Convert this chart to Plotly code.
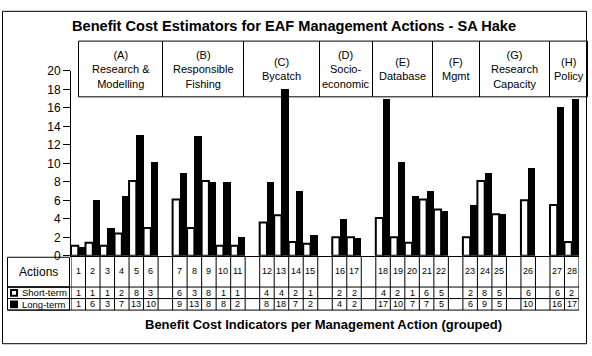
import plotly.graph_objects as go

# ---------------- data ----------------
actions = [str(i) for i in range(1, 29)]
group_sizes = [6, 5, 4, 2, 5, 3, 1, 2]
group_codes = ["(A)", "(B)", "(C)", "(D)", "(E)", "(F)", "(G)", "(H)"]
group_names = ["Research &<br>Modelling", "Responsible<br>Fishing", "Bycatch",
               "Socio-<br>economic", "Database", "Mgmt", "Research<br>Capacity", "Policy"]
short_term = [1.1, 1.4, 1.1, 2.4, 8.1, 3.0,
              6.1, 3.0, 8.1, 1.1, 1.1,
              3.6, 4.4, 1.5, 1.3,
              2.0, 2.0,
              4.1, 2.0, 1.4, 6.1, 5.0,
              2.0, 8.1, 4.5,
              6.0,
              5.5, 1.5]
long_term = [1.0, 6.0, 3.0, 6.5, 13.1, 10.1,
             9.0, 13.0, 8.0, 8.0, 2.0,
             8.0, 18.0, 7.0, 2.3,
             4.0, 1.9,
             17.0, 10.1, 6.5, 7.0, 4.9,
             5.5, 9.0, 4.5,
             9.5,
             16.1, 17.0]
y_ticks = [0, 2, 4, 6, 8, 10, 12, 14, 16, 18, 20]
title = "Benefit Cost Estimators for EAF Management Actions - SA Hake"
x_title = "Benefit Cost Indicators per Management Action (grouped)"
row_labels = ["Actions", "Short-term", "Long-term"]

# ---------------- helpers ----------------
W, H = 592, 356
FONT = "Arial, Liberation Sans, sans-serif"


def px(p):
    return p / W


def py(p):
    return 1 - p / H


# category positions: one empty slot after each group except the last
pos = []
k = 0
for gi, n in enumerate(group_sizes):
    for _ in range(n):
        pos.append(k)
        k += 1
    if gi < len(group_sizes) - 1:
        k += 1
n_slots = k


def r(v):
    return int(v + 0.5)


fig = go.Figure()
fig.add_trace(go.Bar(x=pos, y=short_term, name="Short-term",
                     marker=dict(color="white", line=dict(color="black", width=2))))
fig.add_trace(go.Bar(x=pos, y=long_term, name="Long-term",
                     marker=dict(color="black", line=dict(color="black", width=0))))

shapes = []
annotations = []

# outer border
shapes.append(dict(type="rect", xref="paper", yref="paper", x0=px(2.5), x1=px(586.5),
                   y0=py(350.5), y1=py(4.5), line=dict(color="black", width=1)))

# header boxes
hx = [78.5, 162.5, 243.5, 319.5, 372.5, 432.5, 479.5, 549.5, 587.5]
for i in range(len(group_codes)):
    shapes.append(dict(type="rect", xref="paper", yref="paper", layer="below",
                       x0=px(hx[i]), x1=px(hx[i + 1]), y0=py(93.5), y1=py(35.5),
                       line=dict(color="black", width=1)))
    annotations.append(dict(xref="paper", yref="paper", x=px((hx[i] + hx[i + 1]) / 2),
                            y=py(65), text=group_codes[i] + "<br>" + group_names[i],
                            showarrow=False, align="center", xanchor="center", yanchor="middle",
                            font=dict(family=FONT, size=11, color="black")))

# data table
t_top, r1, r2, t_bot = 259, 291.5, 303.5, 315.5
tab_right = 579
for b in range(n_slots + 1):
    shapes.append(dict(type="line", xref="x", yref="paper", x0=b - 0.5, x1=b - 0.5,
                       y0=py(t_top), y1=py(t_bot), line=dict(color="black", width=1)))
for yy in (r1, r2, t_bot):
    shapes.append(dict(type="line", xref="paper", yref="paper", x0=px(7.5), x1=px(tab_right),
                       y0=py(yy), y1=py(yy), line=dict(color="black", width=1)))
# row header boxes
shapes.append(dict(type="rect", xref="paper", yref="paper", x0=px(7.5), x1=px(69.5),
                   y0=py(r1), y1=py(260.5), line=dict(color="black", width=1)))
shapes.append(dict(type="rect", xref="paper", yref="paper", x0=px(7.5), x1=px(69.5),
                   y0=py(t_bot), y1=py(r1), line=dict(color="black", width=1)))
# legend keys
shapes.append(dict(type="rect", xref="paper", yref="paper", x0=px(11), x1=px(17),
                   y0=py(300.5), y1=py(294.5), fillcolor="white", line=dict(color="black", width=2)))
shapes.append(dict(type="rect", xref="paper", yref="paper", x0=px(10), x1=px(18),
                   y0=py(313.5), y1=py(305.5), fillcolor="black", line=dict(color="black", width=0)))

annotations.append(dict(xref="paper", yref="paper", x=px(38.5), y=py((260 + r1) / 2),
                        text=row_labels[0], showarrow=False, xanchor="center", yanchor="middle",
                        font=dict(family=FONT, size=12, color="black")))
annotations.append(dict(xref="paper", yref="paper", x=px(19.5), y=py((r1 + r2) / 2),
                        text=row_labels[1], showarrow=False, xanchor="left", yanchor="middle",
                        font=dict(family=FONT, size=9.5, color="black")))
annotations.append(dict(xref="paper", yref="paper", x=px(19.5), y=py((r2 + t_bot) / 2),
                        text=row_labels[2], showarrow=False, xanchor="left", yanchor="middle",
                        font=dict(family=FONT, size=9.5, color="black")))

for i, p in enumerate(pos):
    for txt, yc in ((actions[i], (t_top + r1) / 2),
                    (str(r(short_term[i])), (r1 + r2) / 2),
                    (str(r(long_term[i])), (r2 + t_bot) / 2)):
        annotations.append(dict(xref="x", yref="paper", x=p, y=py(yc), text=txt,
                                showarrow=False, xanchor="center", yanchor="middle",
                                font=dict(family=FONT, size=9, color="black")))

# titles
annotations.append(dict(xref="paper", yref="paper", x=px(294), y=py(20), text="<b>" + title + "</b>",
                        showarrow=False, xanchor="center", yanchor="middle",
                        font=dict(family=FONT, size=14.6, color="black")))
annotations.append(dict(xref="paper", yref="paper", x=px(323), y=py(330), text="<b>" + x_title + "</b>",
                        showarrow=False, xanchor="center", yanchor="middle",
                        font=dict(family=FONT, size=13, color="black")))

fig.update_layout(
    width=W, height=H,
    margin=dict(l=0, r=0, t=0, b=0),
    paper_bgcolor="white", plot_bgcolor="white",
    showlegend=False, hovermode=False,
    barmode="group", bargap=0, bargroupgap=0,
    shapes=shapes, annotations=annotations,
    xaxis=dict(domain=[px(71), px(579)], range=[-0.5, n_slots - 0.5],
               showgrid=False, zeroline=False, showticklabels=False, ticks="",
               showline=True, linecolor="black", linewidth=1, fixedrange=True),
    yaxis=dict(domain=[py(259), py(66.5)], range=[0, 20], tickvals=y_ticks,
               showgrid=False, zeroline=False, ticks="outside", ticklen=7, tickcolor="black",
               showline=True, linecolor="black", linewidth=1,
               tickfont=dict(family=FONT, size=12, color="black"), fixedrange=True),
)

fig.write_html("out.html", config={"displayModeBar": False, "staticPlot": True},
               post_script="document.body.style.margin='0';document.body.style.overflow='hidden';")
